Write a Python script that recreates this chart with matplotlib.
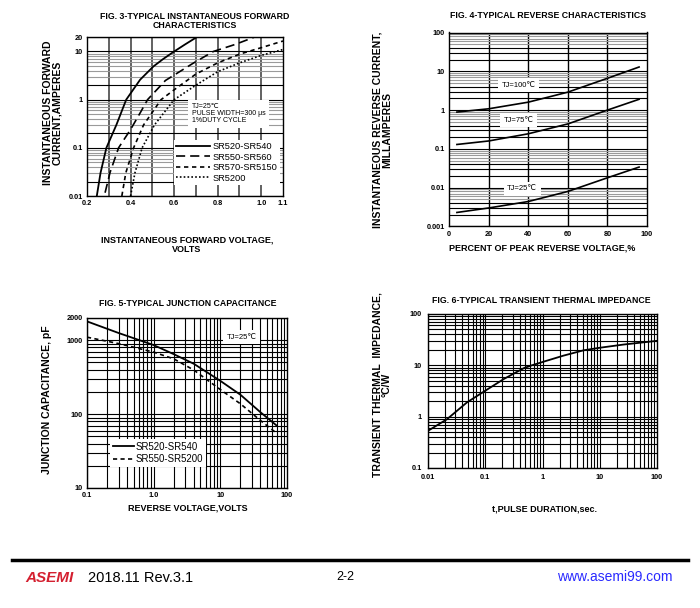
import matplotlib
matplotlib.use("Agg")
import matplotlib.pyplot as plt
from matplotlib.lines import Line2D
from matplotlib.ticker import FixedLocator, FixedFormatter, NullLocator

plt.rcParams['font.family'] = ['Liberation Sans', 'DejaVu Sans']

W, H = 700, 608

# ---- Fig. 3 : forward characteristics (volts, amperes)
fwd_v_540 = [0.245, 0.262, 0.289, 0.335, 0.38, 0.444, 0.505, 0.55, 0.60, 0.65, 0.705]
fwd_i_540 = [0.01, 0.03, 0.1, 0.3, 1.0, 2.6, 4.9, 7.0, 10, 14, 20]
fwd_v_560 = [0.283, 0.306, 0.345, 0.40, 0.446, 0.478, 0.56, 0.69, 0.78, 0.88, 0.97]
fwd_i_560 = [0.0117, 0.031, 0.1, 0.24, 0.55, 1.0, 2.5, 5.8, 10, 14, 20]
fwd_v_5150 = [0.36, 0.378, 0.414, 0.46, 0.54, 0.60, 0.70, 0.80, 0.90, 1.00, 1.10]
fwd_i_5150 = [0.01, 0.03, 0.1, 0.3, 1.0, 1.6, 3.4, 5.8, 8.8, 12, 16.5]
fwd_v_5200 = [0.40, 0.42, 0.453, 0.51, 0.60, 0.70, 0.80, 0.90, 1.00, 1.10]
fwd_i_5200 = [0.01, 0.03, 0.1, 0.3, 1.0, 2.0, 3.8, 5.8, 8.3, 11]
fwd_labels = ['SR520-SR540', 'SR550-SR560', 'SR570-SR5150', 'SR5200']
fwd_xticks = [0.2, 0.4, 0.6, 0.8, 1.0, 1.1]
fwd_yticks = [0.01, 0.1, 1, 10, 20]

# ---- Fig. 4 : reverse characteristics (% of VRRM, mA)
rev_pct = [4, 20, 40, 60, 80, 96]
rev_100 = [0.89, 1.08, 1.6, 2.9, 6.6, 12.9]
rev_75 = [0.13, 0.16, 0.245, 0.44, 1.0, 1.9]
rev_25 = [0.0023, 0.003, 0.0044, 0.008, 0.018, 0.034]
rev_yticks = [0.001, 0.01, 0.1, 1, 10, 100]
rev_xticks = [0, 20, 40, 60, 80, 100]

# ---- Fig. 5 : junction capacitance (volts, pF)
cap_v = [0.1, 0.3, 1.0, 2.0, 4.0, 10, 20, 40, 70]
cap_540 = [1800, 1250, 860, 648, 480, 282, 183, 106, 70]
cap_5200 = [1100, 900, 690, 560, 395, 215, 138, 82, 55]
cap_labels = ['SR520-SR540', 'SR550-SR5200']
cap_xticks = [0.1, 1, 10, 100]
cap_xlabels = ['0.1', '1.0', '10', '100']
cap_yticks = [10, 100, 1000, 2000]

# ---- Fig. 6 : transient thermal impedance (sec, degC/W)
th_t = [0.01, 0.0214, 0.048, 0.1, 0.21, 0.47, 0.65, 1.0, 2.3, 5.2, 10, 26, 100]
th_z = [0.53, 0.89, 1.9, 3.2, 5.4, 8.8, 10, 11.6, 15.4, 19.6, 22, 25.4, 30]
th_xticks = [0.01, 0.1, 1, 10, 100]
th_yticks = [0.1, 1, 10, 100]

fig = plt.figure(figsize=(W / 100, H / 100), dpi=100)

TICK_FS = 5.3


def px_axes(left, top, right, bottom):
    return fig.add_axes([left / W, 1 - bottom / H, (right - left) / W, (bottom - top) / H])


def ftext(x, y, s, **kw):
    fig.text(x / W, 1 - y / H, s, **kw)


def log_hlines(ax, e_lo, e_hi, gray, dark, gray_c='#9a9a9a', lw=0.8):
    for e in range(e_lo, e_hi):
        for s in range(1, 10):
            v = s * 10.0 ** e
            if s == 1 or s in dark:
                ax.axhline(v, color='black', lw=lw, zorder=0.5)
            elif s in gray:
                ax.axhline(v, color=gray_c, lw=lw, zorder=0.5)


def log_vlines(ax, e_lo, e_hi, lw=0.8):
    for e in range(e_lo, e_hi):
        for s in range(1, 10):
            ax.axvline(s * 10.0 ** e, color='black', lw=lw, zorder=0.5)


def finish(ax, xt, xl, yt, yl, pad=3):
    ax.xaxis.set_major_locator(FixedLocator(xt))
    ax.xaxis.set_major_formatter(FixedFormatter(xl))
    ax.yaxis.set_major_locator(FixedLocator(yt))
    ax.yaxis.set_major_formatter(FixedFormatter(yl))
    ax.xaxis.set_minor_locator(NullLocator())
    ax.yaxis.set_minor_locator(NullLocator())
    ax.tick_params(length=0, pad=pad, labelsize=TICK_FS)
    for lab in ax.get_xticklabels() + ax.get_yticklabels():
        lab.set_fontweight('bold')
    for sp in ax.spines.values():
        sp.set_linewidth(1.0)
        sp.set_zorder(6)


# ================= Fig. 3
ax3 = px_axes(87, 37, 283, 196)
ax3.set_xscale('linear')
ax3.set_yscale('log')
ax3.set_xlim(0.2, 1.1)
ax3.set_ylim(0.01, 20)
for k in range(2, 11):
    ax3.axvline(k / 10, color='#555555', lw=1.3, zorder=0.5)
log_hlines(ax3, -2, 2, gray=(3, 4, 5, 6, 7, 8, 9), dark=(2,))
l1, = ax3.plot(fwd_v_540, fwd_i_540, color='black', lw=1.3, zorder=3)
l2, = ax3.plot(fwd_v_560, fwd_i_560, color='black', lw=1.2, zorder=3)
l2.set_dashes((5.5, 3))
l3, = ax3.plot(fwd_v_5150, fwd_i_5150, color='black', lw=1.2, zorder=3)
l3.set_dashes((2.6, 2.2))
l4, = ax3.plot(fwd_v_5200, fwd_i_5200, color='black', lw=1.2, zorder=3)
l4.set_dashes((1.0, 1.3))
ax3.text(0.535, 0.585, 'TJ=25℃\nPULSE WIDTH=300 μs\n1%DUTY CYCLE', transform=ax3.transAxes,
         fontsize=5.0, va='top', ha='left', linespacing=1.05, zorder=4,
         bbox=dict(facecolor='white', edgecolor='none', pad=2.5))
leg3 = ax3.legend([l1, l2, l3, l4], fwd_labels, loc='lower right', bbox_to_anchor=(0.985, 0.07),
                  fontsize=6.7, frameon=True, fancybox=False, framealpha=1, edgecolor='none',
                  handlelength=3.6, handletextpad=0.35, labelspacing=0.15, borderpad=0.25,
                  borderaxespad=0)
leg3.set_zorder(5)
finish(ax3, fwd_xticks, ['0.2', '0.4', '0.6', '0.8', '1.0', '1.1'],
       fwd_yticks, ['0.01', '0.1', '1', '10', '20'])

ftext(195, 21, 'FIG. 3-TYPICAL INSTANTANEOUS FORWARD\nCHARACTERISTICS', ha='center', va='center',
      fontsize=6.3, fontweight='bold', linespacing=1.05)
ftext(52.5, 113, 'INSTANTANEOUS FORWARD\nCURRENT,AMPERES', rotation=90, ha='center', va='center',
      fontsize=7.5, fontweight='bold', linespacing=0.95)
ftext(187, 244.5, 'INSTANTANEOUS FORWARD VOLTAGE,\nVOLTS', ha='center', va='center',
      fontsize=6.5, fontweight='bold', linespacing=1.05)

# ================= Fig. 4
ax4 = px_axes(449, 32.5, 647, 226.5)
ax4.set_yscale('log')
ax4.set_xlim(0, 100)
ax4.set_ylim(0.001, 100)
for k in (20, 40, 60, 80):
    ax4.axvline(k, color='black', lw=1.0, zorder=0.5)
log_hlines(ax4, -3, 2, gray=(5, 6, 7, 8, 9), dark=(2, 3, 4))
for vals in (rev_100, rev_75, rev_25):
    ax4.plot(rev_pct, vals, color='black', lw=1.2, zorder=3)
box = dict(facecolor='white', edgecolor='none', pad=2.5)
ax4.text(35, 4.4, 'TJ=100℃', fontsize=5.5, ha='center', va='center', bbox=box, zorder=4)
ax4.text(35, 0.55, 'TJ=75℃', fontsize=5.5, ha='center', va='center', bbox=box, zorder=4)
ax4.text(37, 0.0093, 'TJ=25℃', fontsize=5.5, ha='center', va='center', bbox=box, zorder=4)
finish(ax4, rev_xticks, [str(v) for v in rev_xticks],
       rev_yticks, ['0.001', '0.01', '0.1', '1', '10', '100'])

ftext(548, 15.7, 'FIG. 4-TYPICAL REVERSE CHARACTERISTICS', ha='center', va='center',
      fontsize=6.3, fontweight='bold')
ftext(382, 130, 'INSTANTANEOUS REVERSE CURRENT,\nMILLAMPERES', rotation=90, ha='center', va='center',
      fontsize=7.5, fontweight='bold', linespacing=0.95)
ftext(542, 248, 'PERCENT OF PEAK REVERSE VOLTAGE,%', ha='center', va='center',
      fontsize=6.5, fontweight='bold')

# ================= Fig. 5
ax5 = px_axes(87, 318, 287, 488)
ax5.set_xscale('log')
ax5.set_yscale('log')
ax5.set_xlim(0.1, 100)
ax5.set_ylim(10, 2000)
log_vlines(ax5, -1, 2, lw=0.8)
log_hlines(ax5, 1, 4, gray=(), dark=(2, 3, 4, 5, 6, 7, 8, 9), lw=0.8)
c1, = ax5.plot(cap_v, cap_540, color='black', lw=1.3, zorder=3)
c2, = ax5.plot(cap_v, cap_5200, color='black', lw=1.2, zorder=3)
c2.set_dashes((2.5, 2))
ax5.text(21, 1100, 'TJ=25℃', fontsize=5.5, ha='center', va='center', bbox=box, zorder=4)
leg5 = ax5.legend([c1, c2], cap_labels, loc='upper left', bbox_to_anchor=(0.115, 0.29),
                  fontsize=6.9, frameon=True, fancybox=False, framealpha=1, edgecolor='none',
                  handlelength=2.2, handletextpad=0.15, labelspacing=0.3, borderpad=0.3,
                  borderaxespad=0)
leg5.set_zorder(5)
finish(ax5, cap_xticks, cap_xlabels, cap_yticks, ['10', '100', '1000', '2000'])

ftext(188, 304, 'FIG. 5-TYPICAL JUNCTION CAPACITANCE', ha='center', va='center',
      fontsize=6.3, fontweight='bold')
ftext(47, 400, 'JUNCTION CAPACITANCE, pF', rotation=90, ha='center', va='center',
      fontsize=7.5, fontweight='bold')
ftext(187.5, 507.7, 'REVERSE VOLTAGE,VOLTS', ha='center', va='center',
      fontsize=6.5, fontweight='bold')

# ================= Fig. 6
ax6 = px_axes(428, 314, 657, 468)
ax6.set_xscale('log')
ax6.set_yscale('log')
ax6.set_xlim(0.01, 100)
ax6.set_ylim(0.1, 100)
log_vlines(ax6, -2, 2, lw=0.8)
log_hlines(ax6, -1, 2, gray=(), dark=(2, 3, 4, 5, 6, 7, 8, 9), lw=0.8)
ax6.plot(th_t, th_z, color='black', lw=1.3, zorder=3)
finish(ax6, th_xticks, ['0.01', '0.1', '1', '10', '100'], th_yticks, ['0.1', '1', '10', '100'],
       pad=4.5)

ftext(541, 300.7, 'FIG. 6-TYPICAL TRANSIENT THERMAL IMPEDANCE', ha='center', va='center',
      fontsize=6.3, fontweight='bold')
ftext(382, 385, 'TRANSIENT THERMAL  IMPEDANCE,\n°C/W', rotation=90, ha='center', va='center',
      fontsize=7.5, fontweight='bold', linespacing=0.95)
ftext(544, 509.3, 't,PULSE DURATION,sec.', ha='center', va='center',
      fontsize=6.5, fontweight='bold')

# ================= footer
fig.add_artist(Line2D([12 / W, 688 / W], [1 - 560 / H, 1 - 560 / H], color='black', lw=2.5))
ftext(25, 578, 'ASEMI', ha='left', va='center', fontsize=11, fontweight='bold',
      fontstyle='italic', color='#d42030')
ftext(88, 578, '2018.11 Rev.3.1', ha='left', va='center', fontsize=10.5)
ftext(345, 577, '2-2', ha='center', va='center', fontsize=9)
ftext(673, 577, 'www.asemi99.com', ha='right', va='center', fontsize=10, color='#2a2aff')

fig.savefig('out.png', dpi=100)
